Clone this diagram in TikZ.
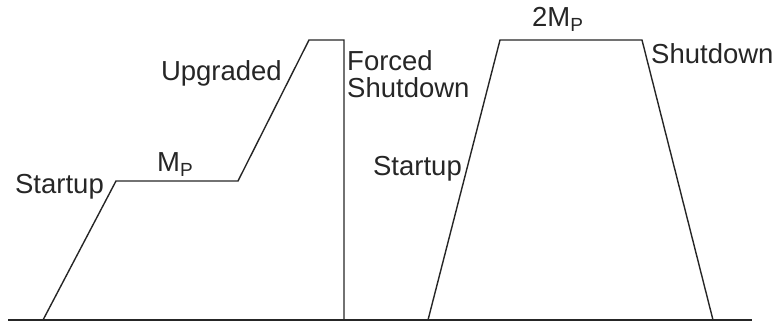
\documentclass[tikz,border=0pt]{standalone}
\usepackage{fontspec}
\setmainfont{Liberation Sans}
\usetikzlibrary{positioning, calc}

% machine count with a lowered P
\newcommand{\mcount}{M\raisebox{-5pt}{\fontsize{19}{19}\selectfont P}}

\begin{document}
\begin{tikzpicture}[
    x=1pt, y=-1pt,
    profile/.style={draw=black!85, line width=1.4pt, line join=miter},
    axis/.style={draw=black!85, line width=2.8pt},
    lbl/.style={inner sep=0pt, font=\fontsize{27.5}{27.5}\selectfont, text=black!85}
]

\useasboundingbox (0,0) rectangle (776,324);

% corner points of the two load profiles
\coordinate (a0) at (43,320);
\coordinate (a1) at (116,181);
\coordinate (a2) at (238,181);
\coordinate (a3) at (309,40);
\coordinate (a4) at (344,40);
\coordinate (a5) at (344,320);

\coordinate (b0) at (428,320);
\coordinate (b1) at (500,40);
\coordinate (b2) at (642,40);
\coordinate (b3) at (713,320);

\coordinate (axisL) at (8,320);
\coordinate (axisR) at (752,320);

% ground line and profiles
\draw[axis] (axisL) -- (axisR);
\draw[profile] (a0) -- (a1) -- (a2) -- (a3) -- (a4) -- (a5);
\draw[profile] (b0) -- (b1) -- (b2) -- (b3);

% labels
\node[lbl, anchor=base east] (startA) at (104,193) {Startup};
\node[lbl, anchor=base west] (mpA) at (157,171) {\mcount};
\node[lbl, anchor=base east] (upgr) at (282,80) {Upgraded};
\node[lbl, anchor=base west] (forced) at (347,70) {Forced};
\node[lbl, anchor=base west] (forcedB) at (347,97) {Shutdown};
\node[lbl, anchor=base east] (startB) at (462,175) {Startup};
\node[lbl, anchor=base west] (mpB) at (532,27) {2\mcount};
\node[lbl, anchor=base west] (shut) at (651,63) {Shutdown};

\end{tikzpicture}
\end{document}
